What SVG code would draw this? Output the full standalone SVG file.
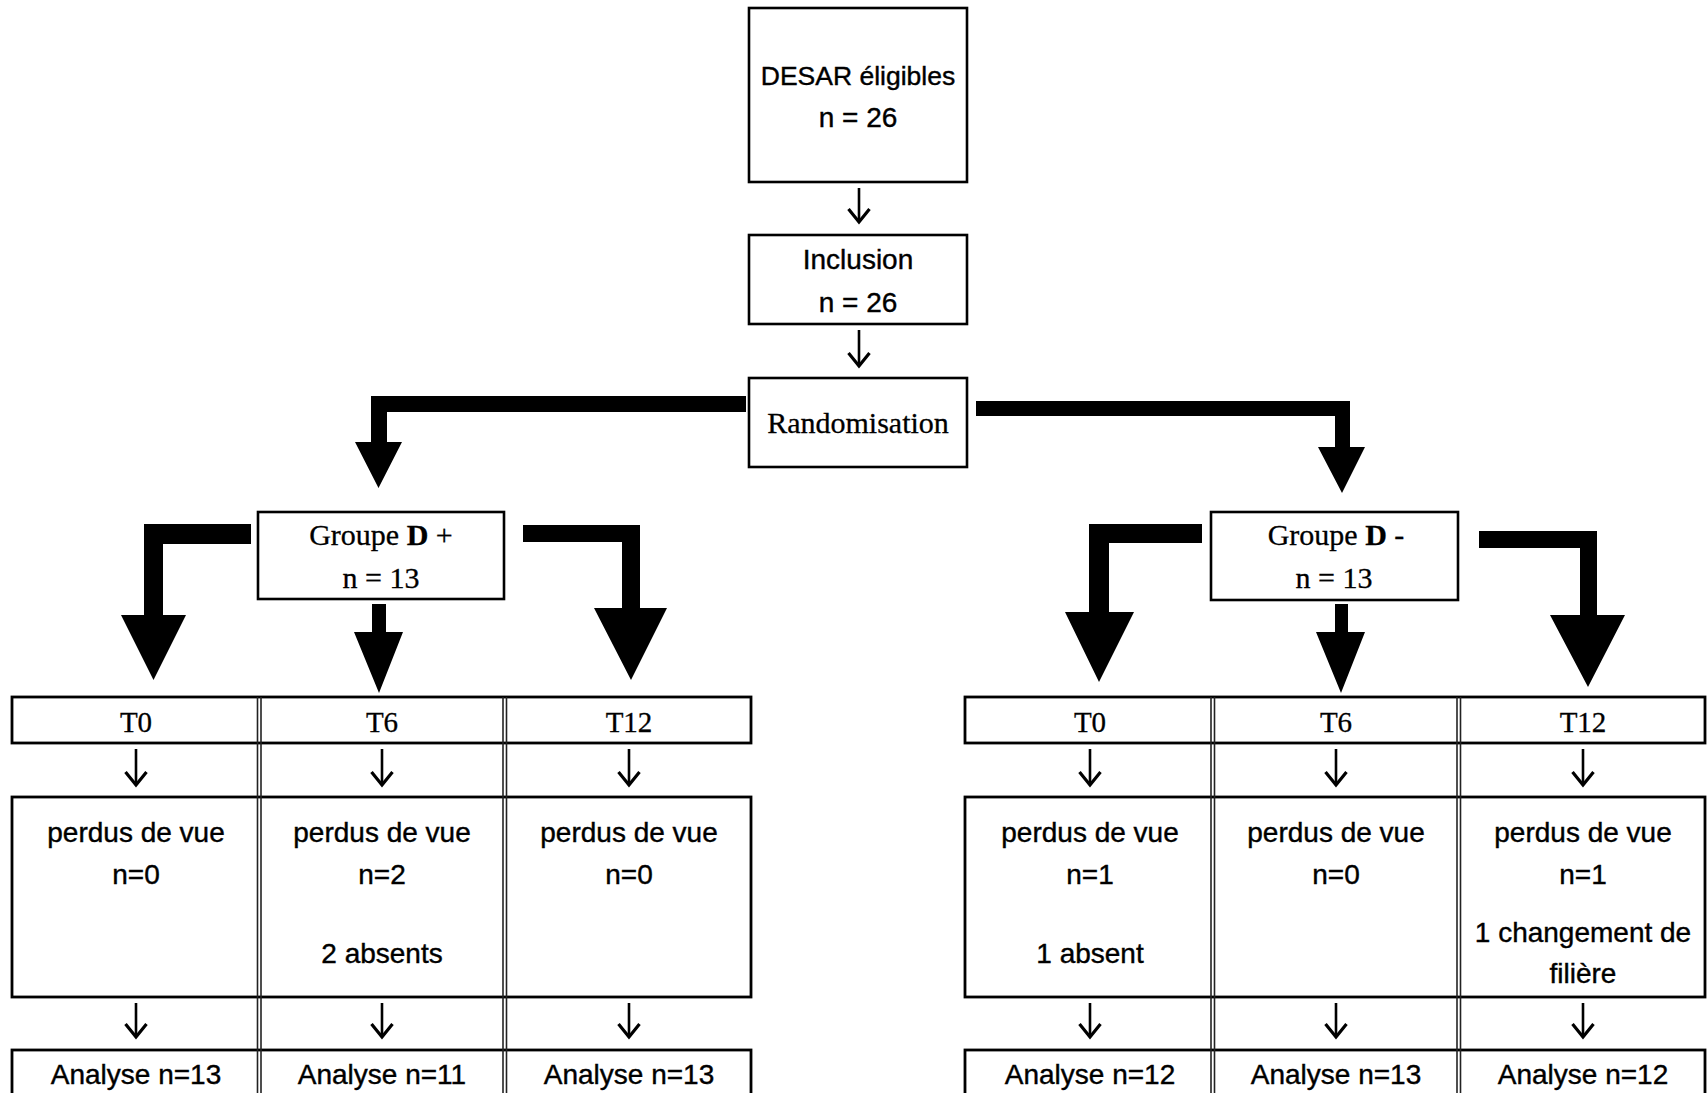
<svg xmlns="http://www.w3.org/2000/svg" width="1708" height="1093" viewBox="0 0 1708 1093">
<style>
.box{fill:#fff;stroke:#000;stroke-width:2.6}
.row{fill:#fff;stroke:#000;stroke-width:2.8}
.sep{stroke:#222;stroke-width:1.6}
.sans{font-family:"Liberation Sans",Arial,sans-serif;font-size:28px;fill:#000;stroke:#000;stroke-width:0.4;text-anchor:middle}
.serif{font-family:"Liberation Serif","Times New Roman",serif;font-size:30px;fill:#000;stroke:#000;stroke-width:0.3;text-anchor:middle}
.thin{stroke:#000;stroke-width:2.6;fill:none;marker-end:url(#chev)}
.thick{fill:#000;stroke:none}
</style>
<defs>
<marker id="chev" markerUnits="userSpaceOnUse" markerWidth="18" markerHeight="26" viewBox="-15 -13 18 26" refX="0" refY="0" orient="auto">
<path d="M-13,-10.5 L0,0 L-13,10.5" fill="none" stroke="#000" stroke-width="3.2"/>
</marker>
</defs>
<rect width="1708" height="1093" fill="#fff"/>

<g id="connectors">
<path class="thin" d="M859,188 V222"/>
<path class="thin" d="M859,330 V366"/>
<polygon class="thick" points="746,396 371,396 371,442 355,442 378.5,488 402,442 387,442 387,412 746,412"/>
<polygon class="thick" points="976,401 1350,401 1350,447 1365,447 1342,493 1318,447 1335,447 1335,416 976,416"/>
<polygon class="thick" points="251,524 144,524 144,615 121,615 153.5,680 186,615 163,615 163,544 251,544"/>
<polygon class="thick" points="372,604 386,604 386,632 403,632 379,693 354,632 372,632"/>
<polygon class="thick" points="523,525 640,525 640,608 667,608 631,680 594,608 622,608 622,542 523,542"/>
<polygon class="thick" points="1202,524 1089,524 1089,612 1065,612 1099,682 1134,612 1109,612 1109,543 1202,543"/>
<polygon class="thick" points="1335,604 1348,604 1348,632 1365,632 1341,693 1316,632 1335,632"/>
<polygon class="thick" points="1479,531 1597,531 1597,615 1625,615 1588,687 1550,615 1580,615 1580,548 1479,548"/>
<path class="thin" d="M136,749 V785"/>
<path class="thin" d="M382,749 V785"/>
<path class="thin" d="M629,749 V785"/>
<path class="thin" d="M1090,749 V785"/>
<path class="thin" d="M1336,749 V785"/>
<path class="thin" d="M1583,749 V785"/>
<path class="thin" d="M136,1003 V1037"/>
<path class="thin" d="M382,1003 V1037"/>
<path class="thin" d="M629,1003 V1037"/>
<path class="thin" d="M1090,1003 V1037"/>
<path class="thin" d="M1336,1003 V1037"/>
<path class="thin" d="M1583,1003 V1037"/>
</g>

<g id="desar">
<rect class="box" x="749" y="8" width="218" height="174"/>
<text class="sans" x="858" y="85" style="font-size:26.5px">DESAR éligibles</text>
<text class="sans" x="858" y="127">n = 26</text>
</g>
<g id="inclusion">
<rect class="box" x="749" y="235" width="218" height="89"/>
<text class="sans" x="858" y="269">Inclusion</text>
<text class="sans" x="858" y="312">n = 26</text>
</g>
<g id="randomisation">
<rect class="box" x="749" y="378" width="218" height="89"/>
<text class="serif" x="858" y="433">Randomisation</text>
</g>
<g id="groupe-dplus">
<rect class="box" x="258" y="512" width="246" height="87"/>
<text class="serif" x="381" y="545">Groupe <tspan font-weight="bold">D</tspan> +</text>
<text class="serif" x="381" y="588">n = 13</text>
</g>
<g id="groupe-dminus">
<rect class="box" x="1211" y="512" width="247" height="88"/>
<text class="serif" x="1336" y="545">Groupe <tspan font-weight="bold">D</tspan> -</text>
<text class="serif" x="1334" y="588">n = 13</text>
</g>

<g id="table-dplus">
<rect class="row" x="12" y="697" width="739" height="46"/>
<rect class="row" x="12" y="797" width="739" height="200"/>
<rect class="row" x="12" y="1050" width="739" height="60"/>
<line class="sep" x1="257.5" y1="697" x2="257.5" y2="1093"/>
<line class="sep" x1="261" y1="697" x2="261" y2="1093"/>
<line class="sep" x1="503" y1="697" x2="503" y2="1093"/>
<line class="sep" x1="506.5" y1="697" x2="506.5" y2="1093"/>
<text class="serif" x="136" y="732" style="font-size:29px">T0</text>
<text class="serif" x="382" y="732" style="font-size:29px">T6</text>
<text class="serif" x="629" y="732" style="font-size:29px">T12</text>
<text class="sans" x="136" y="842">perdus de vue</text>
<text class="sans" x="136" y="884">n=0</text>
<text class="sans" x="382" y="842">perdus de vue</text>
<text class="sans" x="382" y="884">n=2</text>
<text class="sans" x="382" y="963">2 absents</text>
<text class="sans" x="629" y="842">perdus de vue</text>
<text class="sans" x="629" y="884">n=0</text>
<text class="sans" x="136" y="1084">Analyse n=13</text>
<text class="sans" x="382" y="1084">Analyse n=11</text>
<text class="sans" x="629" y="1084">Analyse n=13</text>
</g>

<g id="table-dminus">
<rect class="row" x="965" y="697" width="740" height="46"/>
<rect class="row" x="965" y="797" width="740" height="200"/>
<rect class="row" x="965" y="1050" width="740" height="60"/>
<line class="sep" x1="1211" y1="697" x2="1211" y2="1093"/>
<line class="sep" x1="1214.5" y1="697" x2="1214.5" y2="1093"/>
<line class="sep" x1="1457" y1="697" x2="1457" y2="1093"/>
<line class="sep" x1="1460.5" y1="697" x2="1460.5" y2="1093"/>
<text class="serif" x="1090" y="732" style="font-size:29px">T0</text>
<text class="serif" x="1336" y="732" style="font-size:29px">T6</text>
<text class="serif" x="1583" y="732" style="font-size:29px">T12</text>
<text class="sans" x="1090" y="842">perdus de vue</text>
<text class="sans" x="1090" y="884">n=1</text>
<text class="sans" x="1090" y="963">1 absent</text>
<text class="sans" x="1336" y="842">perdus de vue</text>
<text class="sans" x="1336" y="884">n=0</text>
<text class="sans" x="1583" y="842">perdus de vue</text>
<text class="sans" x="1583" y="884">n=1</text>
<text class="sans" x="1583" y="942">1 changement de</text>
<text class="sans" x="1583" y="983">filière</text>
<text class="sans" x="1090" y="1084">Analyse n=12</text>
<text class="sans" x="1336" y="1084">Analyse n=13</text>
<text class="sans" x="1583" y="1084">Analyse n=12</text>
</g>
</svg>
